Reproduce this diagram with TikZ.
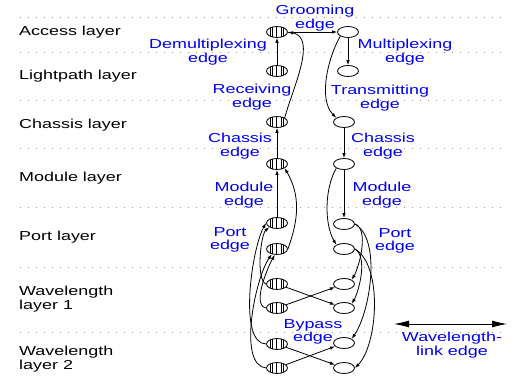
\documentclass[tikz,border=0pt]{standalone}
\usepackage{fontspec}
\setmainfont{Liberation Sans}[FakeStretch=1.38]
\usepackage{xcolor}
\usepackage{tikz}
\usetikzlibrary{positioning,arrows.meta,shapes.geometric}
\definecolor{edgeblue}{RGB}{0,0,240}
\definecolor{dotgray}{RGB}{150,150,150}

\tikzset{
  layername/.style={anchor=west, align=left, inner sep=0pt,
                    font=\fontsize{13}{13.5}\selectfont},
  edgelabel/.style={text=edgeblue, align=center, inner sep=0pt,
                    font=\fontsize{13}{13.5}\selectfont},
  plainnode/.style={ellipse, draw, line width=0.8pt, fill=white,
                    minimum width=21pt, minimum height=11pt, inner sep=0pt},
  hatchnode/.style={plainnode, path picture={
      \foreach \dx in {-6.5,-5,-1,4.5,6.5}
        \draw[line width=0.7pt] ([xshift=\dx pt]path picture bounding box.north)
                                -- ([xshift=\dx pt]path picture bounding box.south);
    }},
  edgearrow/.style={-{Latex[length=5pt,width=3.5pt]}, line width=0.8pt},
  layerline/.style={dotgray, line width=0.8pt, dash pattern=on 0.8pt off 7.2pt}
}

\begin{document}
\begin{tikzpicture}[x=1pt, y=1pt]
  \useasboundingbox (0,0) rectangle (514,-386);

  % layer separators
  \foreach \ly in {17,52,100,148,207,267,332}
    \draw[layerline] (20,-\ly) -- (506,-\ly);

  % layer names
  \node[layername] (accesstxt) at (19,-32)  {Access layer};
  \node[layername] (lighttxt)  at (19,-76)  {Lightpath layer};
  \node[layername] (chassistxt) at (19,-125) {Chassis layer};
  \node[layername] (moduletxt) at (19,-178) {Module layer};
  \node[layername] (porttxt)   at (19,-237) {Port layer};
  \node[layername] (wave1txt)  at (19,-299) {Wavelength\\layer 1};
  \node[layername] (wave2txt)  at (19,-359) {Wavelength\\layer 2};

  % receiving side (left column)
  \node[hatchnode] (AL)   at (277,-32)  {};
  \node[hatchnode] (LL)   at (277,-71)  {};
  \node[hatchnode] (CL)   at (277,-122) {};
  \node[hatchnode] (ML)   at (277,-164) {};
  \node[hatchnode] (PaL)  at (277,-223) {};
  \node[hatchnode] (PbL)  at (277,-249) {};
  \node[hatchnode] (W1aL) at (277,-284) {};
  \node[hatchnode] (W1bL) at (277,-308) {};
  \node[hatchnode] (W2aL) at (277,-344) {};
  \node[hatchnode] (W2bL) at (277,-368) {};

  % transmitting side (right column)
  \node[plainnode] (AR)   at (348,-32)  {};
  \node[plainnode] (LR)   at (348,-71)  {};
  \node[plainnode] (CR)   at (344,-122) {};
  \node[plainnode] (MR)   at (344,-164) {};
  \node[plainnode] (PaR)  at (344,-224) {};
  \node[plainnode] (PbR)  at (344,-249) {};
  \node[plainnode] (W1aR) at (344,-284) {};
  \node[plainnode] (W1bR) at (344,-308) {};
  \node[plainnode] (W2aR) at (344,-343) {};
  \node[plainnode] (W2bR) at (344,-368) {};

  % edges
  \draw[edgearrow] (AL) -- (AR);
  \draw[edgearrow] (LL) -- (AL);
  \draw[edgearrow] (AR) -- (LR);
  \draw[edgearrow] (CL.north east) to[out=75, in=-10, looseness=0.9] (AL.east);
  \draw[edgearrow] (AR.south west) to[out=240, in=135, looseness=0.8] (CR.north west);
  \draw[edgearrow] (ML) -- (CL);
  \draw[edgearrow] (CR) -- (MR);
  \draw[edgearrow] (PaL) -- (ML);
  \draw[edgearrow] (PbL.east) to[out=70, in=-60] (ML.south east);
  \draw[edgearrow] (MR) -- (PaR);
  \draw[edgearrow] (MR.south west) to[out=240, in=120, looseness=0.8] (PbR.north west);

  % port edges
  \draw[edgearrow] (W1aL.west) to[out=160, in=220, looseness=0.5] (PaL.south west);
  \draw[edgearrow] (W2aL.west) to[out=180, in=240, looseness=0.6] (PaL.west);
  \draw[edgearrow] (W1bL.west) to[out=170, in=240, looseness=0.7] (PbL.250);
  \draw[edgearrow] (W2bL.west) to[out=175, in=235, looseness=0.65] (PbL.225);
  \draw[edgearrow] (PaR.east) to[out=-20, in=60, looseness=0.7] (W1aR.north east);
  \draw[edgearrow] (PaR.east) to[out=-30, in=55, looseness=0.7] (W2aR.north east);
  \draw[edgearrow] (PbR.east) to[out=-30, in=60, looseness=0.7] (W1bR.north east);
  \draw[edgearrow] (PbR.east) to[out=-30, in=45, looseness=0.7] (W2bR.east);

  % bypass edges
  \draw[edgearrow] (W1aL) -- (W1bR);
  \draw[edgearrow] (W1bL) -- (W1aR);
  \draw[edgearrow] (W2aL) -- (W2bR);
  \draw[edgearrow] (W2bL) -- (W2aR);

  % wavelength-link edge
  \coordinate (wlA) at (394,-324);
  \coordinate (wlB) at (507,-324);
  \draw[{Latex[length=15pt,width=7pt]}-{Latex[length=15pt,width=7pt]}, line width=0.8pt]
    (wlA) -- (wlB);

  % edge labels
  \node[edgelabel] (groomlbl)  at (315,-18)  {Grooming\\edge};
  \node[edgelabel] (demuxlbl)  at (208,-52)  {Demultiplexing\\edge};
  \node[edgelabel] (muxlbl)    at (405,-52)  {Multiplexing\\edge};
  \node[edgelabel] (recvlbl)   at (252,-97)  {Receiving\\edge};
  \node[edgelabel] (translbl)  at (380,-98)  {Transmitting\\edge};
  \node[edgelabel] (chasLlbl)  at (240,-146) {Chassis\\edge};
  \node[edgelabel] (chasRlbl)  at (383,-146) {Chassis\\edge};
  \node[edgelabel] (modLlbl)   at (244,-195) {Module\\edge};
  \node[edgelabel] (modRlbl)   at (382,-195) {Module\\edge};
  \node[edgelabel] (portLlbl)  at (230,-240) {Port\\edge};
  \node[edgelabel] (portRlbl)  at (395,-241) {Port\\edge};
  \node[edgelabel] (bypasslbl) at (313,-332) {Bypass\\edge};
  \node[edgelabel] (wllbl)     at (452,-345) {Wavelength-\\link edge};
\end{tikzpicture}
\end{document}
